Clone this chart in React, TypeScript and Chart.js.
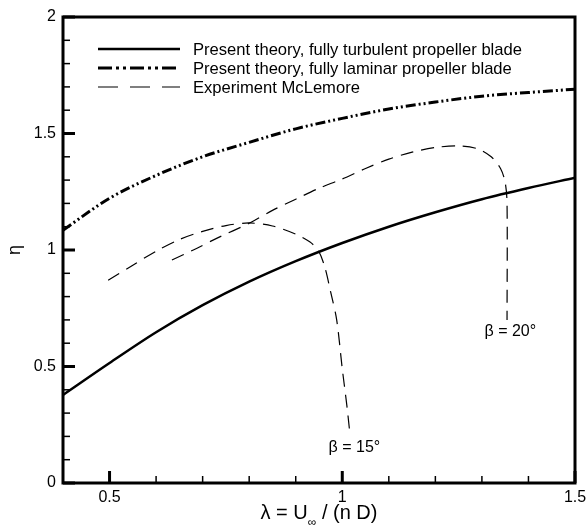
import { useEffect, useRef } from 'react';
import { Chart, registerables } from 'chart.js';

Chart.register(...registerables);

// ---- data ----
const theoryX = [0.4, 0.5, 0.6, 0.7, 0.8, 0.9, 1.0, 1.1, 1.2, 1.3, 1.4, 1.5];
const turbulentEta = [0.378, 0.515, 0.647, 0.763, 0.864, 0.952, 1.03, 1.1, 1.162, 1.218, 1.266, 1.31];
const laminarEta = [1.085, 1.222, 1.32, 1.4, 1.462, 1.52, 1.565, 1.605, 1.635, 1.66, 1.676, 1.69];

const beta15X = [0.497, 0.55, 0.6, 0.65, 0.7, 0.75, 0.8, 0.85, 0.9, 0.93, 0.948, 0.962, 0.975, 0.988, 1.0, 1.01, 1.017];
const beta15Eta = [0.87, 0.935, 0.995, 1.045, 1.08, 1.105, 1.116, 1.103, 1.068, 1.035, 1.0, 0.93, 0.82, 0.7, 0.49, 0.33, 0.2];

const beta20X = [0.634, 0.68, 0.73, 0.8, 0.85, 0.9, 0.95, 1.0, 1.05, 1.1, 1.15, 1.2, 1.25, 1.29, 1.32, 1.34, 1.35, 1.354, 1.354];
const beta20Eta = [0.957, 1.0, 1.05, 1.115, 1.17, 1.218, 1.265, 1.305, 1.35, 1.39, 1.42, 1.44, 1.447, 1.435, 1.4, 1.35, 1.29, 1.2, 0.7];

const xMajorTicks = [0.5, 1, 1.5];
const xMinorTicks = [0.6, 0.7, 0.8, 0.9, 1.1, 1.2, 1.3, 1.4];
const yMajorTicks = [0, 0.5, 1, 1.5, 2];
const yMinorTicks = [0.1, 0.2, 0.3, 0.4, 0.6, 0.7, 0.8, 0.9, 1.1, 1.2, 1.3, 1.4, 1.6, 1.7, 1.8, 1.9];

const legendLabels = [
  'Present theory, fully turbulent propeller blade',
  'Present theory, fully laminar propeller blade',
  'Experiment McLemore',
];

const annotationTexts = ['β = 15°', 'β = 20°'];
const annotationX = [1.026, 1.361];
const annotationEta = [0.15, 0.648];

const FONT = '"Liberation Sans", Arial, Helvetica, sans-serif';

const toPoints = (xs: number[], ys: number[]) => xs.map((x, i) => ({ x, y: ys[i] }));

const lamDash = [10, 3, 2, 3, 2, 3];
const expDash = [13, 8];

const decorPlugin = {
  id: 'decor',
  afterDatasetsDraw(chart: any) {
    const { ctx, chartArea: a, scales } = chart;
    const x = scales.x;
    const y = scales.y;
    ctx.save();
    ctx.strokeStyle = '#000';
    ctx.fillStyle = '#000';
    ctx.setLineDash([]);

    // frame
    ctx.lineWidth = 3;
    ctx.strokeRect(a.left, a.top, a.right - a.left, a.bottom - a.top);

    // ticks (inward)
    const drawXTick = (v: number, len: number, w: number) => {
      const px = x.getPixelForValue(v);
      ctx.lineWidth = w;
      ctx.beginPath();
      ctx.moveTo(px, a.bottom);
      ctx.lineTo(px, a.bottom - len);
      ctx.stroke();
    };
    const drawYTick = (v: number, len: number, w: number) => {
      const py = y.getPixelForValue(v);
      ctx.lineWidth = w;
      ctx.beginPath();
      ctx.moveTo(a.left, py);
      ctx.lineTo(a.left + len, py);
      ctx.stroke();
    };
    xMajorTicks.forEach((v) => drawXTick(v, 12, 3));
    xMinorTicks.forEach((v) => drawXTick(v, 7, 1.5));
    yMajorTicks.forEach((v) => drawYTick(v, 12, 3));
    yMinorTicks.forEach((v) => drawYTick(v, 7, 1.5));

    // legend
    const lx0 = a.left + 35;
    const lx1 = a.left + 117;
    const tx = a.left + 130;
    const rows = [a.top + 31, a.top + 50, a.top + 69];
    const styles = [
      { w: 2.5, dash: [] as number[] },
      { w: 3, dash: [14, 4, 3, 4, 3, 4] },
      { w: 1.2, dash: [20, 12] },
    ];
    ctx.font = `16.6px ${FONT}`;
    ctx.textBaseline = 'middle';
    ctx.textAlign = 'left';
    legendLabels.forEach((label, i) => {
      ctx.lineWidth = styles[i].w;
      ctx.setLineDash(styles[i].dash);
      ctx.beginPath();
      ctx.moveTo(lx0, rows[i] + 1);
      ctx.lineTo(lx1, rows[i] + 1);
      ctx.stroke();
      ctx.setLineDash([]);
      ctx.fillText(label, tx, rows[i] + 2);
    });

    // annotations
    ctx.textAlign = 'center';
    ctx.font = `16px ${FONT}`;
    annotationTexts.forEach((t, i) => {
      ctx.fillText(t, x.getPixelForValue(annotationX[i]), y.getPixelForValue(annotationEta[i]));
    });

    // x-axis title with subscript
    const big = `20px ${FONT}`;
    const small = `12px ${FONT}`;
    const p1 = 'λ = U';
    const p2 = '∞';
    const p3 = ' / (n D)';
    ctx.font = big;
    const w1 = ctx.measureText(p1).width;
    const w3 = ctx.measureText(p3).width;
    ctx.font = small;
    const w2 = ctx.measureText(p2).width;
    const total = w1 + w2 + w3;
    const cx = (a.left + a.right) / 2;
    const ty = a.bottom + 30;
    let sx = cx - total / 2;
    ctx.textAlign = 'left';
    ctx.textBaseline = 'middle';
    ctx.font = big;
    ctx.fillText(p1, sx, ty);
    sx += w1;
    ctx.font = small;
    ctx.fillText(p2, sx, ty + 10);
    sx += w2;
    ctx.font = big;
    ctx.fillText(p3, sx, ty);

    ctx.restore();
  },
};

export default function App() {
  const canvasRef = useRef<HTMLCanvasElement | null>(null);

  useEffect(() => {
    document.body.style.margin = '0';
    const canvas = canvasRef.current;
    if (!canvas) return;
    const chart = new Chart(canvas, {
      type: 'line',
      data: {
        datasets: [
          {
            label: legendLabels[0],
            data: toPoints(theoryX, turbulentEta),
            borderColor: '#000',
            borderWidth: 2.5,
            pointRadius: 0,
            tension: 0.4,
            cubicInterpolationMode: 'monotone',
            fill: false,
          },
          {
            label: legendLabels[1],
            data: toPoints(theoryX, laminarEta),
            borderColor: '#000',
            borderWidth: 3,
            borderDash: lamDash,
            pointRadius: 0,
            tension: 0.4,
            cubicInterpolationMode: 'monotone',
            fill: false,
          },
          {
            label: 'β = 15°',
            data: toPoints(beta15X, beta15Eta),
            borderColor: '#000',
            borderWidth: 1.2,
            borderDash: expDash,
            pointRadius: 0,
            tension: 0.3,
            fill: false,
          },
          {
            label: 'β = 20°',
            data: toPoints(beta20X, beta20Eta),
            borderColor: '#000',
            borderWidth: 1.2,
            borderDash: expDash,
            pointRadius: 0,
            tension: 0.3,
            fill: false,
          },
        ],
      },
      options: {
        animation: false,
        responsive: true,
        maintainAspectRatio: false,
        layout: { padding: { top: 17, right: 12, left: 0, bottom: 0 } },
        plugins: {
          legend: { display: false },
          tooltip: { enabled: false },
          title: { display: false },
        },
        scales: {
          x: {
            type: 'linear',
            min: 0.4,
            max: 1.5,
            grid: { display: false, drawTicks: false },
            border: { display: false },
            afterBuildTicks: (scale: any) => {
              scale.ticks = xMajorTicks.map((value) => ({ value }));
            },
            afterFit: (scale: any) => {
              scale.height = 44;
              scale.paddingLeft = 0;
              scale.paddingRight = 0;
            },
            ticks: {
              padding: 5,
              color: '#000',
              font: { family: FONT, size: 16 },
              maxRotation: 0,
              callback: (v: any) => String(v),
            },
          },
          y: {
            type: 'linear',
            min: 0,
            max: 2,
            grid: { display: false, drawTicks: false },
            border: { display: false },
            afterBuildTicks: (scale: any) => {
              scale.ticks = yMajorTicks.map((value) => ({ value }));
            },
            afterFit: (scale: any) => {
              scale.width = 63;
              scale.paddingTop = 0;
              scale.paddingBottom = 0;
            },
            title: {
              display: true,
              text: 'η',
              color: '#000',
              font: { family: FONT, size: 18 },
              padding: { top: 4, bottom: 0 },
            },
            ticks: {
              padding: 7,
              color: '#000',
              font: { family: FONT, size: 16 },
              callback: (v: any) => String(v),
            },
          },
        },
      },
      plugins: [decorPlugin],
    } as any);
    return () => chart.destroy();
  }, []);

  return (
    <div style={{ width: 587, height: 527, position: 'relative', background: '#fff' }}>
      <canvas ref={canvasRef} />
    </div>
  );
}
